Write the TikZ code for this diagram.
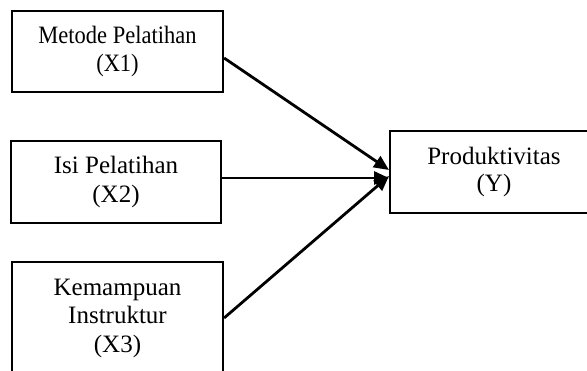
\documentclass[tikz,border=0pt]{standalone}
\usepackage{fontspec}
\setmainfont{Liberation Serif}
\newfontfamily\condensedserif[FakeStretch=0.9]{Liberation Serif}
\usetikzlibrary{arrows.meta,calc}
\begin{document}
\begin{tikzpicture}[x=1pt,y=-1pt,
  boxline/.style={draw, line width=2.2pt},
  box/.style={boxline, align=center, inner sep=0pt, font=\fontsize{25}{28.5}\selectfont},
  narrowbox/.style={box, font=\condensedserif\fontsize{25}{28}\selectfont},
  lbl/.style={align=center, inner sep=0pt, font=\fontsize{25}{27.5}\selectfont},
  arr/.style={line width=2.8pt, -{Triangle[length=15pt,width=13pt]}}]
\useasboundingbox (0,0) rectangle (587,371);
\clip (0,0) rectangle (587,371);
\node[narrowbox, minimum width=211pt, minimum height=81pt] (x1) at (117.5,51.5) {Metode Pelatihan\\(X1)};
\node[box, minimum width=210pt, minimum height=82pt] (x2) at (116,182) {Isi Pelatihan\\(X2)};
\node[box, minimum width=211pt, minimum height=112pt] (x3) at (117.5,318) {Kemampuan\\Instruktur\\(X3)};
\node[boxline, minimum width=260pt, minimum height=82pt, anchor=west, inner sep=0pt] (y) at (389,172) {};
\node[lbl] (ylbl) at (494,172) {Produktivitas\\(Y)};
\draw[arr] ($(x1.east)+(0,6.5)$) -- ($(y.west)+(0,-2)$);
\draw[arr] ($(x2.east)+(0,-4)$) -- ($(y.west)+(0,6)$);
\draw[arr] (x3.east) -- ($(y.west)+(0,4)$);
\end{tikzpicture}
\end{document}
